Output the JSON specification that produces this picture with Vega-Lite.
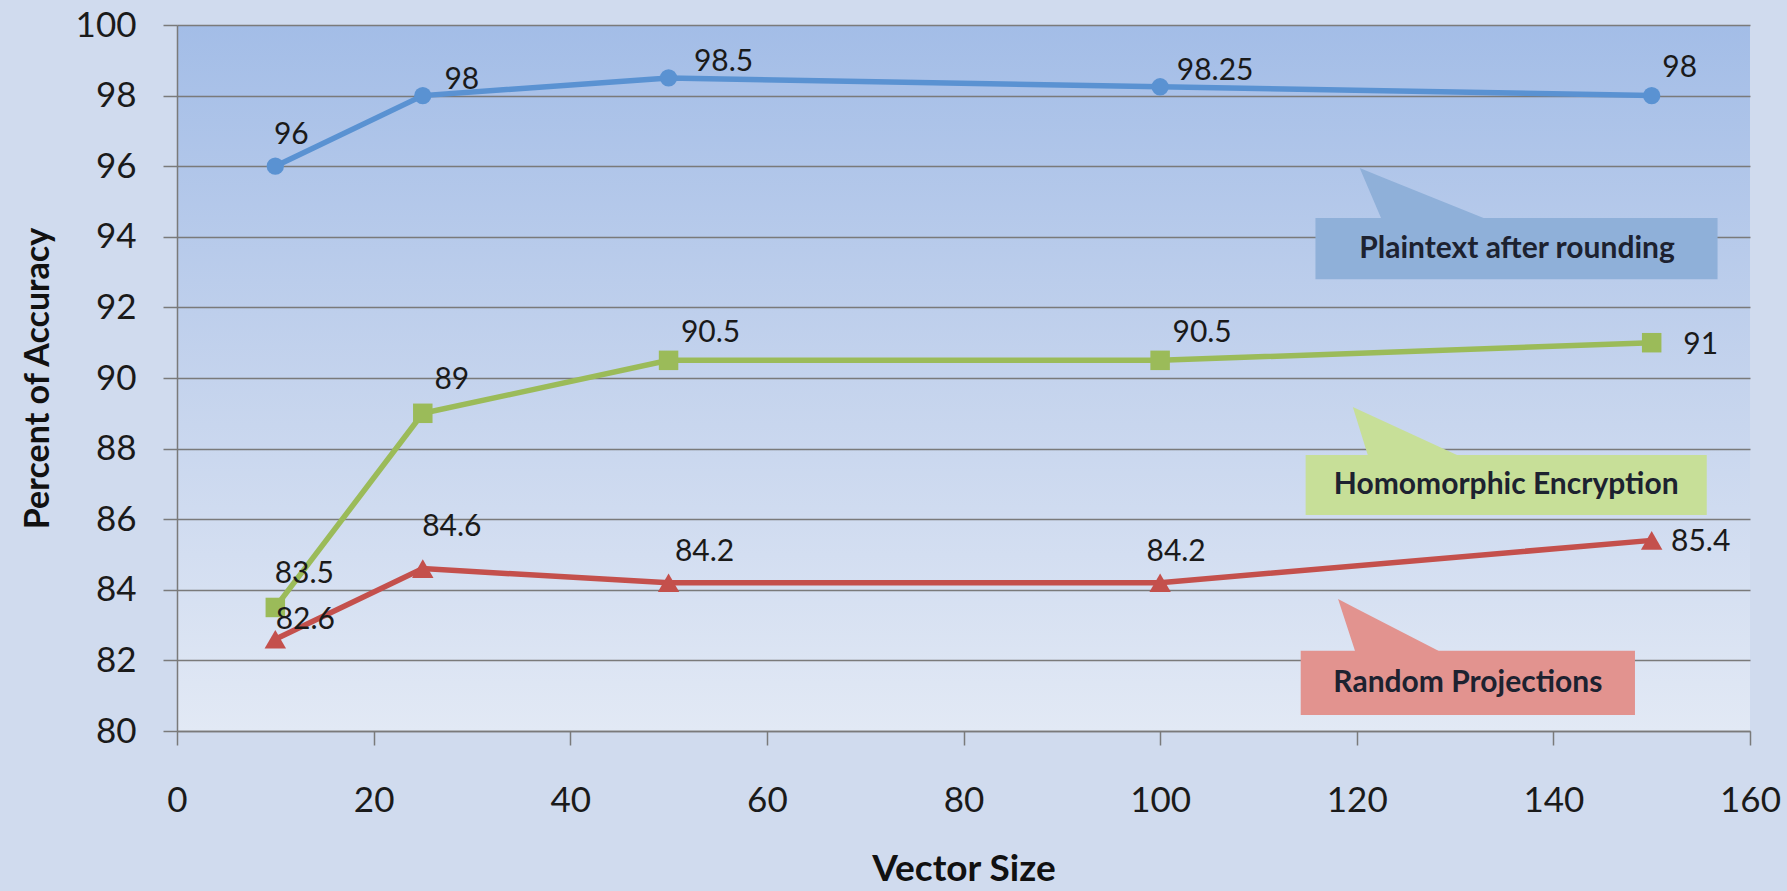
{
  "$schema": "https://vega.github.io/schema/vega-lite/v6.json",
  "width": 1573,
  "height": 706,
  "autosize": {"type": "none"},
  "padding": {"left": 177, "top": 25, "right": 37, "bottom": 160},
  "background": "#d0dbee",
  "config": {
    "font": "Lato",
    "view": {
      "stroke": null,
      "fill": {"gradient": "linear", "x1": 0, "y1": 0, "x2": 0, "y2": 1,
        "stops": [{"offset": 0, "color": "#a3bde7"}, {"offset": 0.5, "color": "#c4d3ed"}, {"offset": 1, "color": "#e2e9f5"}]}
    },
    "axis": {
      "domainColor": "#7a7a7a", "domainWidth": 1.5,
      "gridColor": "#7a7a7a", "gridWidth": 1.5, "gridOpacity": 1,
      "tickColor": "#7a7a7a", "tickWidth": 1.5, "tickSize": 14,
      "labelFont": "Lato", "labelFontSize": 35, "labelColor": "#1a1a1a",
      "titleFont": "Lato", "titleFontSize": 34, "titleFontWeight": "bold", "titleColor": "#111111",
      "labelOverlap": false, "labelFlush": false
    }
  },
  "datasets": {
    "acc": [
      {"series": "Plaintext after rounding", "x": 10, "y": 96},
      {"series": "Plaintext after rounding", "x": 25, "y": 98},
      {"series": "Plaintext after rounding", "x": 50, "y": 98.5},
      {"series": "Plaintext after rounding", "x": 100, "y": 98.25},
      {"series": "Plaintext after rounding", "x": 150, "y": 98},
      {"series": "Homomorphic Encryption", "x": 10, "y": 83.5},
      {"series": "Homomorphic Encryption", "x": 25, "y": 89},
      {"series": "Homomorphic Encryption", "x": 50, "y": 90.5},
      {"series": "Homomorphic Encryption", "x": 100, "y": 90.5},
      {"series": "Homomorphic Encryption", "x": 150, "y": 91},
      {"series": "Random Projections", "x": 10, "y": 82.6},
      {"series": "Random Projections", "x": 25, "y": 84.6},
      {"series": "Random Projections", "x": 50, "y": 84.2},
      {"series": "Random Projections", "x": 100, "y": 84.2},
      {"series": "Random Projections", "x": 150, "y": 85.4}
    ],
    "boxes": [
      {"series": "Plaintext after rounding", "x": 115.8, "x2": 156.7, "y": 94.53, "y2": 92.8},
      {"series": "Homomorphic Encryption", "x": 114.8, "x2": 155.6, "y": 87.82, "y2": 86.12},
      {"series": "Random Projections", "x": 114.3, "x2": 148.3, "y": 82.27, "y2": 80.45}
    ],
    "pointers": [
      {"series": "Plaintext after rounding", "x": 120.3, "y": 95.95, "y2": 95.95},
      {"series": "Plaintext after rounding", "x": 122.6, "y": 95.69, "y2": 94.45},
      {"series": "Plaintext after rounding", "x": 132.9, "y": 94.53, "y2": 94.45},
      {"series": "Homomorphic Encryption", "x": 119.6, "y": 89.18, "y2": 89.18},
      {"series": "Homomorphic Encryption", "x": 121.2, "y": 88.97, "y2": 87.75},
      {"series": "Homomorphic Encryption", "x": 130.2, "y": 87.82, "y2": 87.75},
      {"series": "Random Projections", "x": 118.1, "y": 83.74, "y2": 83.74},
      {"series": "Random Projections", "x": 119.9, "y": 83.48, "y2": 82.2},
      {"series": "Random Projections", "x": 128.3, "y": 82.27, "y2": 82.2}
    ],
    "notes": [
      {"label": "Plaintext after rounding", "x": 136.3, "y": 93.66},
      {"label": "Homomorphic Encryption", "x": 135.2, "y": 86.97},
      {"label": "Random Projections", "x": 131.3, "y": 81.36}
    ]
  },
  "encoding": {
    "x": {"field": "x", "type": "quantitative",
      "scale": {"domain": [0, 160], "nice": false, "zero": false},
      "axis": {"title": "Vector Size", "values": [0, 20, 40, 60, 80, 100, 120, 140, 160], "grid": false, "labelPadding": 38, "titlePadding": 33, "titleFontSize": 37}},
    "y": {"field": "y", "type": "quantitative",
      "scale": {"domain": [80, 100], "nice": false, "zero": false},
      "axis": {"title": "Percent of Accuracy", "values": [80, 82, 84, 86, 88, 90, 92, 94, 96, 98, 100], "grid": true, "labelPadding": 27, "titlePadding": 20}}
  },
  "layer": [
    {
      "data": {"name": "pointers"},
      "mark": {"type": "area", "interpolate": "linear"},
      "encoding": {
        "y2": {"field": "y2"},
        "detail": {"field": "series"},
        "fill": {"field": "series", "type": "nominal", "legend": null,
          "scale": {"domain": ["Plaintext after rounding", "Homomorphic Encryption", "Random Projections"], "range": ["#8fb0d9", "#c7df98", "#e2938f"]}}
      }
    },
    {
      "data": {"name": "boxes"},
      "mark": {"type": "rect"},
      "encoding": {
        "x2": {"field": "x2"},
        "y2": {"field": "y2"},
        "fill": {"field": "series", "type": "nominal", "legend": null,
          "scale": {"domain": ["Plaintext after rounding", "Homomorphic Encryption", "Random Projections"], "range": ["#8fb0d9", "#c7df98", "#e2938f"]}}
      }
    },
    {
      "data": {"name": "notes"},
      "mark": {"type": "text", "font": "Lato", "fontWeight": "bold", "fontSize": 30, "color": "#1d2230", "align": "center", "baseline": "middle"},
      "encoding": {"text": {"field": "label"}}
    },
    {
      "data": {"name": "acc"},
      "mark": {"type": "line", "strokeWidth": 5.5},
      "encoding": {
        "color": {"field": "series", "type": "nominal", "legend": null,
          "scale": {"domain": ["Plaintext after rounding", "Homomorphic Encryption", "Random Projections"], "range": ["#5a92d2", "#9bbb59", "#c4504c"]}}
      }
    },
    {
      "data": {"name": "acc"},
      "mark": {"type": "point", "filled": true, "opacity": 1},
      "encoding": {
        "color": {"field": "series", "type": "nominal", "legend": null,
          "scale": {"domain": ["Plaintext after rounding", "Homomorphic Encryption", "Random Projections"], "range": ["#5a92d2", "#9bbb59", "#c4504c"]}},
        "shape": {"field": "series", "type": "nominal", "legend": null,
          "scale": {"domain": ["Plaintext after rounding", "Homomorphic Encryption", "Random Projections"], "range": ["circle", "square", "triangle-up"]}},
        "size": {"field": "series", "type": "ordinal", "legend": null,
          "scale": {"domain": ["Plaintext after rounding", "Homomorphic Encryption", "Random Projections"], "range": [300, 460, 400]}}
      }
    },
    {
      "data": {"name": "acc"},
      "transform": [{"filter": "(datum.series == 'Plaintext after rounding' && datum.x == 10) || (datum.series == 'Random Projections' && datum.x == 100)"}],
      "mark": {"type": "text", "fontSize": 30, "color": "#1a1a1a", "align": "center", "baseline": "middle", "dx": 16, "dy": -31},
      "encoding": {"text": {"field": "y"}}
    },
    {
      "data": {"name": "acc"},
      "transform": [{"filter": "datum.series == 'Plaintext after rounding' && datum.x == 25"}],
      "mark": {"type": "text", "fontSize": 30, "color": "#1a1a1a", "align": "center", "baseline": "middle", "dx": 39, "dy": -16},
      "encoding": {"text": {"field": "y"}}
    },
    {
      "data": {"name": "acc"},
      "transform": [{"filter": "datum.series == 'Plaintext after rounding' && (datum.x == 50 || datum.x == 100)"}],
      "mark": {"type": "text", "fontSize": 30, "color": "#1a1a1a", "align": "center", "baseline": "middle", "dx": 55, "dy": -16},
      "encoding": {"text": {"field": "y"}}
    },
    {
      "data": {"name": "acc"},
      "transform": [{"filter": "datum.series == 'Plaintext after rounding' && datum.x == 150"}],
      "mark": {"type": "text", "fontSize": 30, "color": "#1a1a1a", "align": "center", "baseline": "middle", "dx": 28, "dy": -28},
      "encoding": {"text": {"field": "y"}}
    },
    {
      "data": {"name": "acc"},
      "transform": [{"filter": "datum.series == 'Homomorphic Encryption' && (datum.x == 10 || datum.x == 25)"}],
      "mark": {"type": "text", "fontSize": 30, "color": "#1a1a1a", "align": "center", "baseline": "middle", "dx": 29, "dy": -33},
      "encoding": {"text": {"field": "y"}}
    },
    {
      "data": {"name": "acc"},
      "transform": [{"filter": "datum.series == 'Homomorphic Encryption' && (datum.x == 50 || datum.x == 100)"}],
      "mark": {"type": "text", "fontSize": 30, "color": "#1a1a1a", "align": "center", "baseline": "middle", "dx": 42, "dy": -27},
      "encoding": {"text": {"field": "y"}}
    },
    {
      "data": {"name": "acc"},
      "transform": [{"filter": "datum.x == 150 && datum.series != 'Plaintext after rounding'"}],
      "mark": {"type": "text", "fontSize": 30, "color": "#1a1a1a", "align": "center", "baseline": "middle", "dx": 49, "dy": 2},
      "encoding": {"text": {"field": "y"}}
    },
    {
      "data": {"name": "acc"},
      "transform": [{"filter": "datum.series == 'Random Projections' && datum.x == 10"}],
      "mark": {"type": "text", "fontSize": 30, "color": "#1a1a1a", "align": "center", "baseline": "middle", "dx": 30, "dy": -19},
      "encoding": {"text": {"field": "y"}}
    },
    {
      "data": {"name": "acc"},
      "transform": [{"filter": "datum.series == 'Random Projections' && datum.x == 25"}],
      "mark": {"type": "text", "fontSize": 30, "color": "#1a1a1a", "align": "center", "baseline": "middle", "dx": 29, "dy": -42},
      "encoding": {"text": {"field": "y"}}
    },
    {
      "data": {"name": "acc"},
      "transform": [{"filter": "datum.series == 'Random Projections' && datum.x == 50"}],
      "mark": {"type": "text", "fontSize": 30, "color": "#1a1a1a", "align": "center", "baseline": "middle", "dx": 36, "dy": -31},
      "encoding": {"text": {"field": "y"}}
    }
  ]
}
